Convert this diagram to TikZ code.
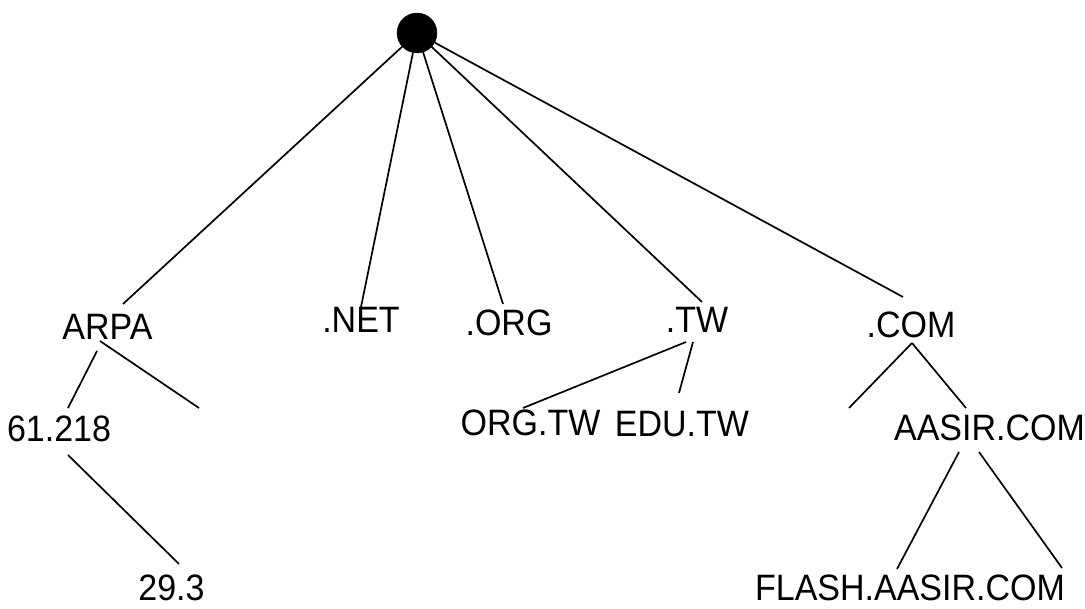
\documentclass[tikz,border=0pt]{standalone}
\usepackage{fontspec}
\setmainfont{Liberation Sans}
\begin{document}
\begin{tikzpicture}[x=1pt,y=-1pt,
  lbl/.style={anchor=base,inner sep=0pt,font=\fontsize{34}{36}\selectfont},
  edge/.style={line width=1.7pt,black},
  rootdot/.style={circle,fill=black,draw=black,minimum size=40pt,inner sep=0pt}]
\useasboundingbox (0,0) rectangle (1085,609);
\node[rootdot] (root) at (417,33) {};
\newcommand{\lab}[1]{\scalebox{1}[1.08]{#1}}
\node[lbl] (arpa) at (107.5,340) {\lab{ARPA}};
\node[lbl] (net) at (361,333) {\lab{.NET}};
\node[lbl] (org) at (509,336) {\lab{.ORG}};
\node[lbl] (tw) at (697,333) {\lab{.TW}};
\node[lbl] (com) at (911,338) {\lab{.COM}};
\node[lbl] (n61) at (59,442) {\lab{61.218}};
\node[lbl] (orgtw) at (530.5,436) {\lab{ORG.TW}};
\node[lbl] (edutw) at (682,437) {\lab{EDU.TW}};
\node[lbl] (aasir) at (989.5,441) {\lab{AASIR.COM}};
\node[lbl] (flash) at (910,600) {\lab{FLASH.AASIR.COM}};
\node[lbl] (n29) at (171.5,600) {\lab{29.3}};
\coordinate (e1) at (199,408);
\coordinate (e2) at (849,408);
\coordinate (e3) at (1062,568);
\draw[edge] (root) -- ([shift={(15.5,-36)}]arpa.base);
\draw[edge] (root) -- ([shift={(0,-26)}]net.base);
\draw[edge] (root) -- ([shift={(-6,-32)}]org.base);
\draw[edge] (root) -- ([shift={(5,-31)}]tw.base);
\draw[edge] (root) -- ([shift={(-8,-41)}]com.base);
\draw[edge] ([shift={(-10.5,11)}]arpa.base) -- ([shift={(9,-34)}]n61.base);
\draw[edge] ([shift={(-7.5,1)}]arpa.base) -- (e1);
\draw[edge] ([shift={(9,13)}]n61.base) -- ([shift={(7.5,-36)}]n29.base);
\draw[edge] ([shift={(-11,9)}]tw.base) -- ([shift={(-7.5,-28)}]orgtw.base);
\draw[edge] ([shift={(-4,9)}]tw.base) -- ([shift={(-3,-44)}]edutw.base);
\draw[edge] ([shift={(1,5)}]com.base) -- (e2);
\draw[edge] ([shift={(1,5)}]com.base) -- ([shift={(-23.5,-33)}]aasir.base);
\draw[edge] ([shift={(-30.5,11)}]aasir.base) -- ([shift={(-13,-31)}]flash.base);
\draw[edge] ([shift={(-10.5,11)}]aasir.base) -- (e3);
\end{tikzpicture}
\end{document}
